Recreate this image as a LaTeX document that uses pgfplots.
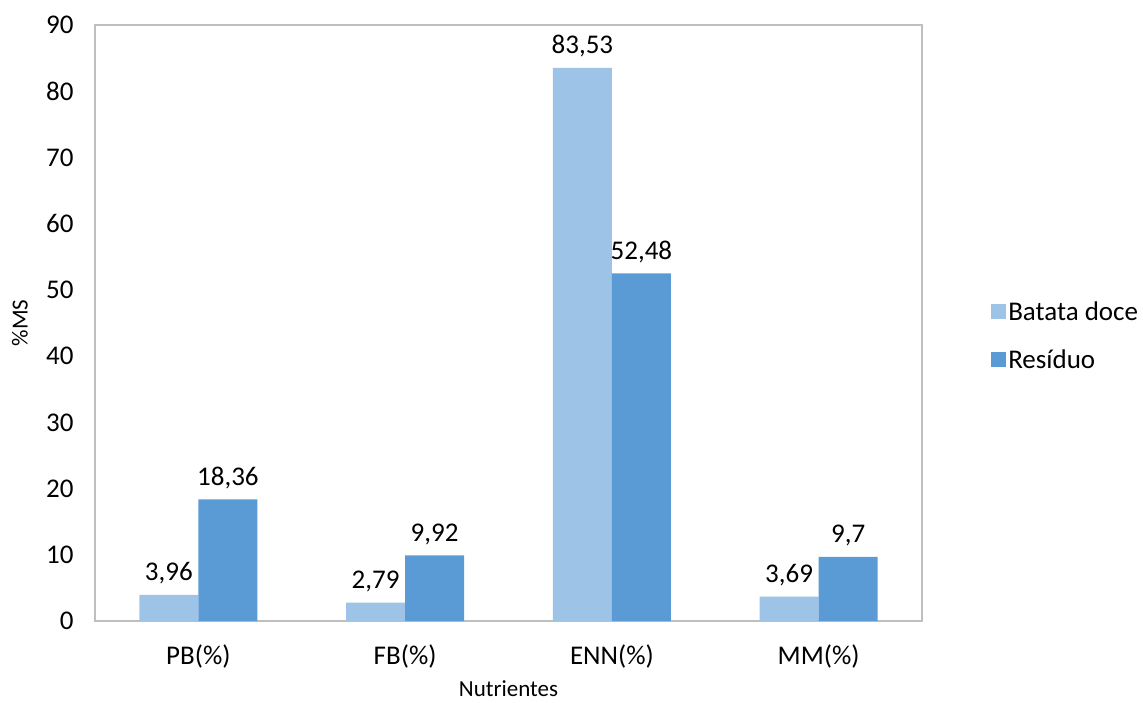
\documentclass[border=0pt]{standalone}
\usepackage{pgfplots}
\pgfplotsset{compat=1.18}
\usepackage{fontspec}
\setmainfont{Carlito}
\definecolor{lightb}{HTML}{9DC3E6}
\definecolor{darkb}{HTML}{5B9BD5}
\definecolor{framec}{HTML}{BFBFBF}
\begin{document}
\begin{tikzpicture}
\begin{axis}[
  at={(95pt,81pt)}, anchor=south west,
  scale only axis, width=827pt, height=596pt,
  ybar=0pt, bar width=59pt,
  xmin=-0.5, xmax=3.5, ymin=0, ymax=90,
  xtick=data, xticklabels={PB(\%),FB(\%),ENN(\%),MM(\%)},
  ytick={0,10,...,90},
  major tick length=0pt,
  axis line style={framec, line width=1.6pt},
  tick label style={font=\fontsize{27}{31}\selectfont},
  /pgf/number format/assume math mode=true,
  yticklabel style={xshift=-18pt},
  xticklabel style={yshift=-20pt},
  ylabel={\%MS}, xlabel={Nutrientes},
  label style={font=\fontsize{23}{27}\selectfont},
  ylabel style={at={(rel axis cs:0,0.5)}, anchor=center, yshift=75pt},
  xlabel style={at={(rel axis cs:0.5,0)}, yshift=-68pt, anchor=center},
  nodes near coords,
  every node near coord/.append style={font=\fontsize{27}{31}\selectfont, yshift=7pt,
    /pgf/number format/.cd, use comma, precision=2, assume math mode=true},
  clip=false,
  legend style={at={(rel axis cs:1.0835,0.478)}, anchor=west, draw=none,
    font=\fontsize{27}{31}\selectfont, row sep=24pt, inner sep=0pt},
  legend cell align=left,
  legend image code/.code={\fill[#1] (0pt,-7pt) rectangle (15pt,8pt);},
]
\addplot[fill=lightb, draw=none] coordinates {(0,3.96) (1,2.79) (2,83.53) (3,3.69)};
\addplot[fill=darkb, draw=none] coordinates {(0,18.36) (1,9.92) (2,52.48) (3,9.7)};
\legend{Batata doce, Resíduo}
\end{axis}
\pgfresetboundingbox
\path[use as bounding box] (0,0) rectangle (1143pt,702pt);
\end{tikzpicture}
\end{document}
